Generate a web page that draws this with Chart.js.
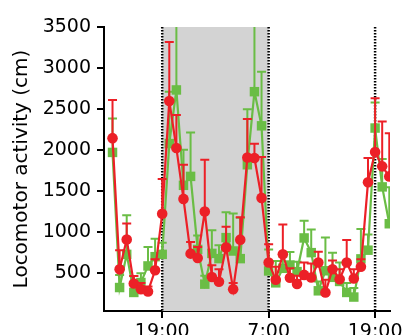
<!DOCTYPE html>
<html lang="en">
<head>
<meta charset="UTF-8">
<title>Locomotor activity</title>
<script src="https://cdn.jsdelivr.net/npm/chart.js"></script>
<style>
    body { margin: 0; padding: 0; background: #fff; }
    #chart { display: block; }
</style>
</head>
<body>
<canvas id="chart" width="404" height="335"></canvas>
<script>
    // time bins, 19:00 falls on bin 7, 7:00 on bin 22, next 19:00 on bin 37
    const bins = [0, 1, 2, 3, 4, 5, 6, 7, 8, 9, 10, 11, 12, 13, 14, 15, 16, 17, 18, 19,
                  20, 21, 22, 23, 24, 25, 26, 27, 28, 29, 30, 31, 32, 33, 34, 35, 36, 37, 38, 39];

    // red group: mean and mean + SEM
    const redMean = [2146, 549, 912, 375, 306, 278, 536, 1224, 2599, 2025,
                     1406, 739, 686, 1252, 455, 397, 815, 306, 909, 1911,
                     1904, 1418, 630, 420, 730, 445, 370, 480, 448, 630,
                     266, 549, 427, 630, 436, 579, 1608, 1977, 1802, 1680];
    const redUpper = [2611, 779, 1107, 465, 380, 340, 670, 1649, 3318, 2429,
                      1822, 880, 819, 1883, 597, 549, 1066, 380, 1183, 2380,
                      2077, 1916, 852, 580, 1094, 560, 470, 630, 618, 763,
                      420, 655, 549, 904, 549, 670, 1904, 2632, 2348, 2207];

    // green group: mean and mean + SEM
    const greenMean = [1972, 326, 730, 266, 387, 589, 702, 730, 2080, 2733,
                       1571, 1680, 790, 367, 742, 678, 934, 771, 678, 1822,
                       2712, 2296, 528, 383, 560, 600, 520, 930, 751, 286,
                       530, 450, 400, 266, 210, 675, 781, 2269, 1552, 1103];
    const greenUpper = [2384, 480, 1207, 467, 500, 819, 921, 872, 2712, 3650,
                        2005, 2215, 961, 470, 1025, 840, 1244, 1228, 1176, 2498,
                        3600, 2955, 790, 649, 700, 760, 640, 1140, 1034, 400,
                        934, 751, 630, 380, 320, 1040, 973, 2579, 1891, 1547];

    const xTickPos = [7, 22, 37];
    const xTickLabels = ['19:00', '7:00', '19:00'];
    const yTicks = [500, 1000, 1500, 2000, 2500, 3000, 3500];
    const darkPhase = [7, 22];

    const RED = '#ec2027';
    const GREEN = '#6abd45';
    const FONT = 'DejaVu Sans';

    // grey dark phase + dotted light switch lines
    const phasePlugin = {
        id: 'phase',
        beforeDatasetsDraw(chart) {
            const { ctx, chartArea: a, scales: { x } } = chart;
            const x0 = x.getPixelForValue(darkPhase[0]);
            const x1 = x.getPixelForValue(darkPhase[1]);
            ctx.save();
            ctx.fillStyle = '#d3d3d3';
            ctx.fillRect(x0, a.top, x1 - x0, a.bottom - a.top);
            ctx.strokeStyle = '#000';
            ctx.lineWidth = 2.5;
            ctx.setLineDash([1.5, 1.5]);
            xTickPos.forEach(v => {
                const px = x.getPixelForValue(v);
                ctx.beginPath();
                ctx.moveTo(px, a.top);
                ctx.lineTo(px, a.bottom);
                ctx.stroke();
            });
            ctx.restore();
        }
    };

    // upward error bars, drawn under each dataset's line
    const errorBarPlugin = {
        id: 'errorBars',
        beforeDatasetDraw(chart, args) {
            const ds = chart.data.datasets[args.index];
            if (!ds.upper) return;
            const { ctx, chartArea: a, scales: { x, y } } = chart;
            ctx.save();
            ctx.beginPath();
            ctx.rect(a.left, a.top, a.right - a.left, a.bottom - a.top);
            ctx.clip();
            ctx.strokeStyle = ds.borderColor;
            ctx.lineWidth = 2;
            ds.data.forEach((p, i) => {
                const px = x.getPixelForValue(p.x);
                const py = y.getPixelForValue(p.y);
                const pu = y.getPixelForValue(ds.upper[i]);
                ctx.beginPath();
                ctx.moveTo(px, py);
                ctx.lineTo(px, pu);
                ctx.moveTo(px - 4.5, pu);
                ctx.lineTo(px + 4.5, pu);
                ctx.stroke();
            });
            ctx.restore();
        }
    };

    const toPoints = vals => bins.map((b, i) => ({ x: b, y: vals[i] }));

    new Chart(document.getElementById('chart'), {
        type: 'line',
        data: {
            datasets: [{
                label: 'red',
                data: toPoints(redMean),
                upper: redUpper,
                borderColor: RED,
                backgroundColor: RED,
                borderWidth: 2.2,
                pointStyle: 'circle',
                pointRadius: 5.3,
                pointBorderWidth: 0,
                tension: 0
            }, {
                label: 'green',
                data: toPoints(greenMean),
                upper: greenUpper,
                borderColor: GREEN,
                backgroundColor: GREEN,
                borderWidth: 2.2,
                pointStyle: 'rect',
                pointRadius: 6.7,
                pointBorderWidth: 0,
                tension: 0
            }]
        },
        options: {
            responsive: false,
            animation: false,
            layout: { padding: { top: 27, right: 14, left: 0, bottom: 0 } },
            plugins: {
                legend: { display: false },
                tooltip: { enabled: false }
            },
            scales: {
                x: {
                    type: 'linear',
                    min: -1.2,
                    max: 39.1,
                    afterBuildTicks: s => { s.ticks = xTickPos.map(v => ({ value: v })); },
                    afterFit: s => {
                        s.height = 24;
                        s.paddingLeft = 0;
                        s.paddingRight = 0;
                    },
                    ticks: {
                        callback: (v, i) => xTickLabels[i],
                        font: { family: FONT, size: 19 },
                        color: '#000',
                        padding: 3,
                        maxRotation: 0,
                        autoSkip: false
                    },
                    grid: { drawOnChartArea: false, tickLength: 7, color: '#000', lineWidth: 2 },
                    border: { color: '#000', width: 2 }
                },
                y: {
                    min: 40,
                    max: 3500,
                    afterBuildTicks: s => { s.ticks = yTicks.map(v => ({ value: v })); },
                    afterFit: s => {
                        s.width = 104;
                        s.paddingTop = 0;
                        s.paddingBottom = 0;
                    },
                    ticks: {
                        callback: v => String(v),
                        font: { family: FONT, size: 19 },
                        color: '#000',
                        padding: 6
                    },
                    grid: { drawOnChartArea: false, tickLength: 7, color: '#000', lineWidth: 2 },
                    border: { color: '#000', width: 2 },
                    title: {
                        display: true,
                        text: 'Locomotor activity (cm)',
                        font: { family: FONT, size: 20 },
                        color: '#000',
                        padding: { top: 10, bottom: 0 }
                    }
                }
            }
        },
        plugins: [phasePlugin, errorBarPlugin]
    });
</script>
</body>
</html>
